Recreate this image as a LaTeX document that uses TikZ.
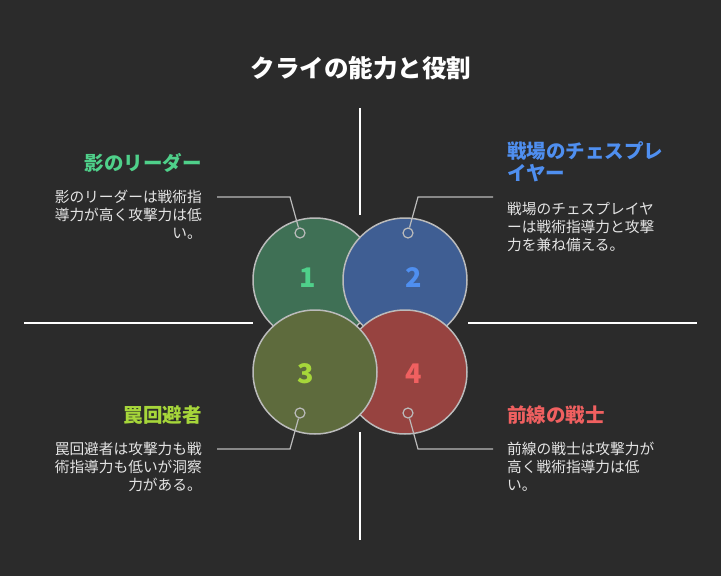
\documentclass[tikz,border=0pt]{standalone}
\usepackage{fontspec}
\setmainfont{Noto Sans CJK JP}
\definecolor{bg}{HTML}{2B2B2B}
\definecolor{gA}{HTML}{3F7055}\definecolor{bA}{HTML}{3F5E93}
\definecolor{oA}{HTML}{5E6B3D}\definecolor{rA}{HTML}{974340}
\definecolor{gT}{HTML}{4FD08A}\definecolor{bT}{HTML}{4F8FF0}
\definecolor{oT}{HTML}{A6D63A}\definecolor{rT}{HTML}{F06060}
\definecolor{ln}{HTML}{BBBBBB}
\begin{document}
\begin{tikzpicture}[x=1pt,y=-1pt,
  big/.style={circle,draw=ln,line width=1.5pt,minimum size=124pt,inner sep=0pt},
  num/.style={font=\bfseries\fontsize{27}{27}\selectfont},
  dot/.style={circle,draw=ln,line width=1.2pt,minimum size=10pt,inner sep=0pt},
  lead/.style={ln,line width=1.2pt},
  axis/.style={white,line width=1.5pt},
  head/.style={font=\bfseries\fontsize{19.5}{22}\selectfont,inner sep=0pt},
  body/.style={font=\fontsize{14.7}{18}\selectfont,text=white!90!black,inner sep=0pt}]
\fill[bg] (0,0) rectangle (721,576);
\useasboundingbox (0,0) rectangle (721,576);
\node[font=\bfseries\fontsize{24.5}{24}\selectfont,text=white] (title) at (361,68) {クライの能力と役割};
\draw[axis] (360,108) -- (360,215); \draw[axis] (360,432) -- (360,540);
\draw[axis] (24,323) -- (253,323); \draw[axis] (468,323) -- (697,323);
\node[big,fill=gA] (c1) at (315,280) {};
\node[big,fill=bA] (c2) at (405,280) {};
\node[big,fill=rA] (c4) at (405,372) {};
\node[big,fill=oA] (c3) at (315,372) {};
\node[num,text=gT] (n1) at (308,278) {1};
\node[num,text=bT] (n2) at (414,278) {2};
\node[num,text=oT] (n3) at (306,374) {3};
\node[num,text=rT] (n4) at (414,374) {4};
\node[dot] (d1) at (300,233) {}; \node[dot] (d2) at (408,233) {};
\node[dot] (d3) at (300,413) {}; \node[dot] (d4) at (408,413) {};
\coordinate (e1) at (217,197); \coordinate (e2) at (493,197);
\coordinate (e3) at (217,449); \coordinate (e4) at (493,449);
\draw[lead] (d1) -- (290,197) -- (e1);
\draw[lead] (d2) -- (418,197) -- (e2);
\draw[lead] (d3) -- (290,449) -- (e3);
\draw[lead] (d4) -- (418,449) -- (e4);
\node[head,text=gT,anchor=east] (h1) at (202,163) {影のリーダー};
\node[body,anchor=north east,align=right] (t1) at (202,190) {影のリーダーは戦術指\\導力が高く攻撃力は低\\い。};
\node[head,text=bT,anchor=north west,align=left] (h2) at (507,141) {戦場のチェスプレ\\イヤー};
\node[body,anchor=north west,align=left] (t2) at (507,202) {戦場のチェスプレイヤ\\ーは戦術指導力と攻撃\\力を兼ね備える。};
\node[head,text=oT,anchor=east] (h3) at (202,415) {罠回避者};
\node[body,anchor=north east,align=right] (t3) at (202,442) {罠回避者は攻撃力も戦\\術指導力も低いが洞察\\力がある。};
\node[head,text=rT,anchor=west] (h4) at (507,415) {前線の戦士};
\node[body,anchor=north west,align=left] (t4) at (507,442) {前線の戦士は攻撃力が\\高く戦術指導力は低\\い。};
\end{tikzpicture}
\end{document}
